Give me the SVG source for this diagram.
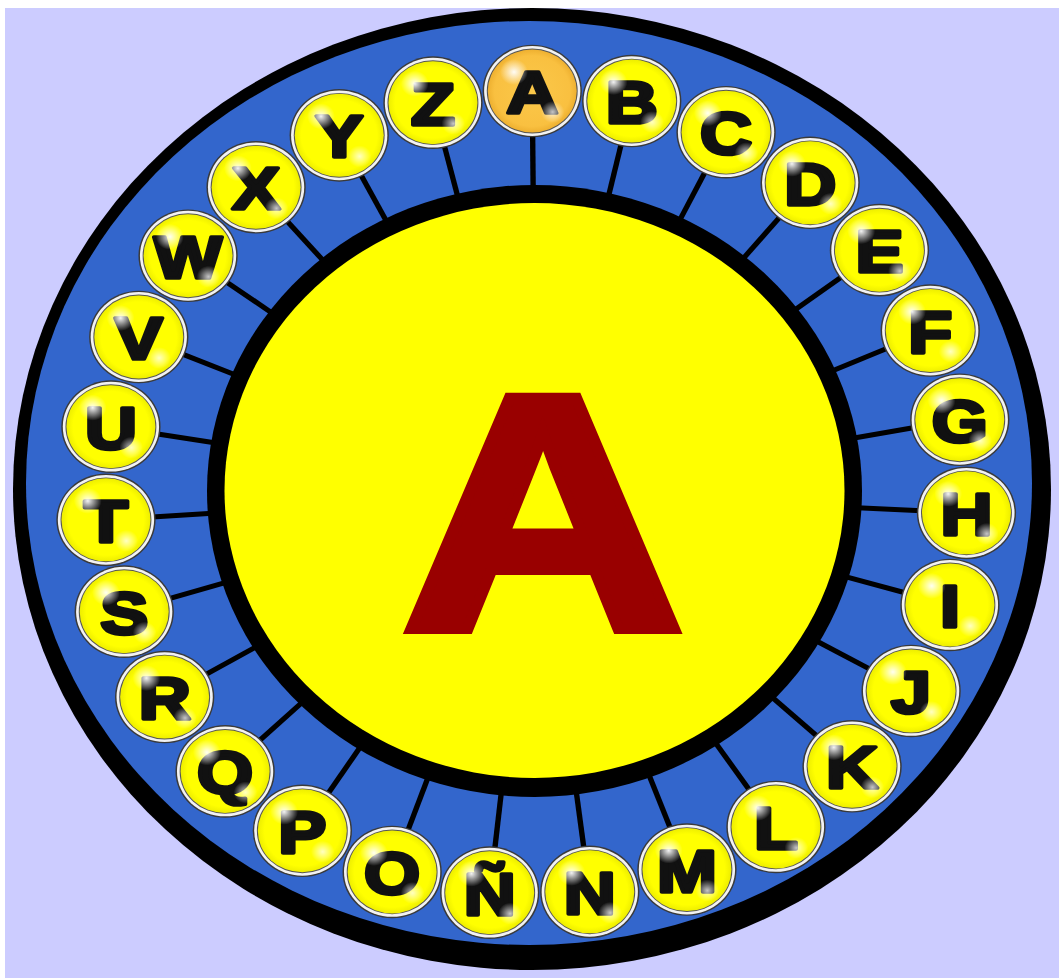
<svg xmlns="http://www.w3.org/2000/svg" xmlns:xlink="http://www.w3.org/1999/xlink" width="1059" height="978" viewBox="0 0 1059 978">
<style>
.lt{font-family:"Liberation Sans",Arial,sans-serif;font-weight:bold;font-size:60px;fill:#111;stroke:#111;stroke-width:3.6;stroke-linejoin:round;text-anchor:middle}
.big{font-family:"Liberation Sans",Arial,sans-serif;font-weight:bold;font-size:336px;fill:#990000;stroke:#990000;stroke-width:10;stroke-linejoin:miter;text-anchor:middle}
.spoke{stroke:#000;stroke-width:5}
</style>
<defs>
<radialGradient id="gy" cx="0.5" cy="0.5" r="0.5">
<stop offset="0" stop-color="#ffff00"/><stop offset="0.85" stop-color="#ffff00"/><stop offset="1" stop-color="#eeee00"/>
</radialGradient>
<radialGradient id="go" cx="0.5" cy="0.5" r="0.5">
<stop offset="0" stop-color="#fbc84a"/><stop offset="0.85" stop-color="#f9c040"/><stop offset="1" stop-color="#eeb030"/>
</radialGradient>
<radialGradient id="hl" cx="0.5" cy="0.5" r="0.5">
<stop offset="0" stop-color="#fff" stop-opacity="0.95"/><stop offset="1" stop-color="#fff" stop-opacity="0"/>
</radialGradient>
<g id="rim">
<circle r="46.3" fill="#3a3a3a"/>
<circle r="44.9" fill="#f2f2f2"/>
<circle r="42.4" fill="#555"/>
</g>
<g id="disc"><use href="#rim"/><circle r="41.5" fill="url(#gy)"/></g>
<g id="discA"><use href="#rim"/><circle r="41.5" fill="url(#go)"/></g>
<g id="gloss">
<circle cx="-17" cy="-19" r="13" fill="url(#hl)"/>
<circle cx="19" cy="21" r="11" fill="url(#hl)" opacity="0.8"/>
</g>
</defs>
<rect width="1059" height="978" fill="#fff"/>
<rect x="5" y="8" width="1054" height="970" fill="#ccccff"/>
<g id="wheel">
<ellipse cx="532" cy="489" rx="519" ry="481" fill="#000"/>
<ellipse cx="529" cy="483" rx="503" ry="462" fill="#3366cc"/>
</g>
<g id="connectors" transform="translate(536 493) scale(1.0721 1)">
<line class="spoke" x1="0" y1="-295" x2="0" y2="-370" transform="rotate(-0.5)"/>
<line class="spoke" x1="0" y1="-295" x2="0" y2="-370" transform="rotate(12.833)"/>
<line class="spoke" x1="0" y1="-295" x2="0" y2="-370" transform="rotate(26.167)"/>
<line class="spoke" x1="0" y1="-295" x2="0" y2="-370" transform="rotate(39.5)"/>
<line class="spoke" x1="0" y1="-295" x2="0" y2="-370" transform="rotate(52.833)"/>
<line class="spoke" x1="0" y1="-295" x2="0" y2="-370" transform="rotate(66.167)"/>
<line class="spoke" x1="0" y1="-295" x2="0" y2="-370" transform="rotate(79.5)"/>
<line class="spoke" x1="0" y1="-295" x2="0" y2="-370" transform="rotate(92.833)"/>
<line class="spoke" x1="0" y1="-295" x2="0" y2="-370" transform="rotate(106.167)"/>
<line class="spoke" x1="0" y1="-295" x2="0" y2="-370" transform="rotate(119.5)"/>
<line class="spoke" x1="0" y1="-295" x2="0" y2="-370" transform="rotate(132.833)"/>
<line class="spoke" x1="0" y1="-295" x2="0" y2="-370" transform="rotate(146.167)"/>
<line class="spoke" x1="0" y1="-295" x2="0" y2="-370" transform="rotate(159.5)"/>
<line class="spoke" x1="0" y1="-295" x2="0" y2="-370" transform="rotate(172.833)"/>
<line class="spoke" x1="0" y1="-295" x2="0" y2="-370" transform="rotate(186.167)"/>
<line class="spoke" x1="0" y1="-295" x2="0" y2="-370" transform="rotate(199.5)"/>
<line class="spoke" x1="0" y1="-295" x2="0" y2="-370" transform="rotate(212.833)"/>
<line class="spoke" x1="0" y1="-295" x2="0" y2="-370" transform="rotate(226.167)"/>
<line class="spoke" x1="0" y1="-295" x2="0" y2="-370" transform="rotate(239.5)"/>
<line class="spoke" x1="0" y1="-295" x2="0" y2="-370" transform="rotate(252.833)"/>
<line class="spoke" x1="0" y1="-295" x2="0" y2="-370" transform="rotate(266.167)"/>
<line class="spoke" x1="0" y1="-295" x2="0" y2="-370" transform="rotate(279.5)"/>
<line class="spoke" x1="0" y1="-295" x2="0" y2="-370" transform="rotate(292.833)"/>
<line class="spoke" x1="0" y1="-295" x2="0" y2="-370" transform="rotate(306.167)"/>
<line class="spoke" x1="0" y1="-295" x2="0" y2="-370" transform="rotate(319.5)"/>
<line class="spoke" x1="0" y1="-295" x2="0" y2="-370" transform="rotate(332.833)"/>
<line class="spoke" x1="0" y1="-295" x2="0" y2="-370" transform="rotate(346.167)"/>
</g>
<g id="center">
<ellipse cx="534.5" cy="491" rx="327.5" ry="306" fill="#000"/>
<ellipse cx="534.5" cy="490.5" rx="310" ry="287.5" fill="#ffff00"/>
<text class="big" transform="translate(543 629) scale(1.167 1)">A</text>
</g>
<g id="letters" transform="translate(536 493) scale(1.0721 1)">
<g id="node-A" transform="rotate(-0.5) translate(0 -402) rotate(0.5)"><use href="#discA"/><text class="lt" y="22" transform="scale(1.12 1)">A</text><use href="#gloss"/></g>
<g id="node-B" transform="rotate(12.833) translate(0 -402) rotate(-12.833)"><use href="#disc"/><text class="lt" y="22" transform="scale(1.12 1)">B</text><use href="#gloss"/></g>
<g id="node-C" transform="rotate(26.167) translate(0 -402) rotate(-26.167)"><use href="#disc"/><text class="lt" y="22" transform="scale(1.12 1)">C</text><use href="#gloss"/></g>
<g id="node-D" transform="rotate(39.5) translate(0 -402) rotate(-39.5)"><use href="#disc"/><text class="lt" y="22" transform="scale(1.12 1)">D</text><use href="#gloss"/></g>
<g id="node-E" transform="rotate(52.833) translate(0 -402) rotate(-52.833)"><use href="#disc"/><text class="lt" y="22" transform="scale(1.12 1)">E</text><use href="#gloss"/></g>
<g id="node-F" transform="rotate(66.167) translate(0 -402) rotate(-66.167)"><use href="#disc"/><text class="lt" y="22" transform="scale(1.12 1)">F</text><use href="#gloss"/></g>
<g id="node-G" transform="rotate(79.5) translate(0 -402) rotate(-79.5)"><use href="#disc"/><text class="lt" y="22" transform="scale(1.12 1)">G</text><use href="#gloss"/></g>
<g id="node-H" transform="rotate(92.833) translate(0 -402) rotate(-92.833)"><use href="#disc"/><text class="lt" y="22" transform="scale(1.12 1)">H</text><use href="#gloss"/></g>
<g id="node-I" transform="rotate(106.167) translate(0 -402) rotate(-106.167)"><use href="#disc"/><text class="lt" y="22" transform="scale(1.12 1)">I</text><use href="#gloss"/></g>
<g id="node-J" transform="rotate(119.5) translate(0 -402) rotate(-119.5)"><use href="#disc"/><text class="lt" y="22" transform="scale(1.12 1)">J</text><use href="#gloss"/></g>
<g id="node-K" transform="rotate(132.833) translate(0 -402) rotate(-132.833)"><use href="#disc"/><text class="lt" y="22" transform="scale(1.12 1)">K</text><use href="#gloss"/></g>
<g id="node-L" transform="rotate(146.167) translate(0 -402) rotate(-146.167)"><use href="#disc"/><text class="lt" y="22" transform="scale(1.12 1)">L</text><use href="#gloss"/></g>
<g id="node-M" transform="rotate(159.5) translate(0 -402) rotate(-159.5)"><use href="#disc"/><text class="lt" y="22" transform="scale(1.12 1)">M</text><use href="#gloss"/></g>
<g id="node-N" transform="rotate(172.833) translate(0 -402) rotate(-172.833)"><use href="#disc"/><text class="lt" y="22" transform="scale(1.12 1)">N</text><use href="#gloss"/></g>
<g id="node-NN" transform="rotate(186.167) translate(0 -402) rotate(-186.167)"><use href="#disc"/><text class="lt" y="22" transform="scale(1.12 1)">Ñ</text><use href="#gloss"/></g>
<g id="node-O" transform="rotate(199.5) translate(0 -402) rotate(-199.5)"><use href="#disc"/><text class="lt" y="22" transform="scale(1.12 1)">O</text><use href="#gloss"/></g>
<g id="node-P" transform="rotate(212.833) translate(0 -402) rotate(-212.833)"><use href="#disc"/><text class="lt" y="22" transform="scale(1.12 1)">P</text><use href="#gloss"/></g>
<g id="node-Q" transform="rotate(226.167) translate(0 -402) rotate(-226.167)"><use href="#disc"/><text class="lt" y="22" transform="scale(1.12 1)">Q</text><use href="#gloss"/></g>
<g id="node-R" transform="rotate(239.5) translate(0 -402) rotate(-239.5)"><use href="#disc"/><text class="lt" y="22" transform="scale(1.12 1)">R</text><use href="#gloss"/></g>
<g id="node-S" transform="rotate(252.833) translate(0 -402) rotate(-252.833)"><use href="#disc"/><text class="lt" y="22" transform="scale(1.12 1)">S</text><use href="#gloss"/></g>
<g id="node-T" transform="rotate(266.167) translate(0 -402) rotate(-266.167)"><use href="#disc"/><text class="lt" y="22" transform="scale(1.12 1)">T</text><use href="#gloss"/></g>
<g id="node-U" transform="rotate(279.5) translate(0 -402) rotate(-279.5)"><use href="#disc"/><text class="lt" y="22" transform="scale(1.12 1)">U</text><use href="#gloss"/></g>
<g id="node-V" transform="rotate(292.833) translate(0 -402) rotate(-292.833)"><use href="#disc"/><text class="lt" y="22" transform="scale(1.12 1)">V</text><use href="#gloss"/></g>
<g id="node-W" transform="rotate(306.167) translate(0 -402) rotate(-306.167)"><use href="#disc"/><text class="lt" y="22" transform="scale(1.12 1)">W</text><use href="#gloss"/></g>
<g id="node-X" transform="rotate(319.5) translate(0 -402) rotate(-319.5)"><use href="#disc"/><text class="lt" y="22" transform="scale(1.12 1)">X</text><use href="#gloss"/></g>
<g id="node-Y" transform="rotate(332.833) translate(0 -402) rotate(-332.833)"><use href="#disc"/><text class="lt" y="22" transform="scale(1.12 1)">Y</text><use href="#gloss"/></g>
<g id="node-Z" transform="rotate(346.167) translate(0 -402) rotate(-346.167)"><use href="#disc"/><text class="lt" y="22" transform="scale(1.12 1)">Z</text><use href="#gloss"/></g>
</g>
</svg>
